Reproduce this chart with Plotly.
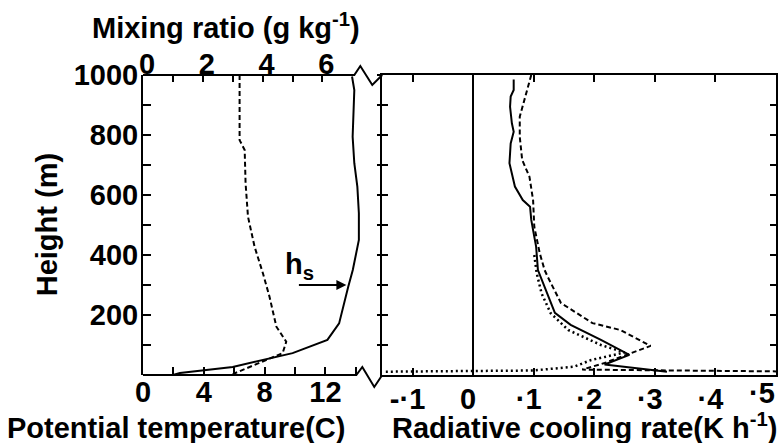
import plotly.graph_objects as go

# ---- left panel: potential temperature (bottom axis) and mixing ratio (top axis)
theta_height = [995, 950, 794, 706, 628, 539, 450, 350, 294, 228, 172, 117, 73, 27, 7, 0]
theta = [13.75, 13.9, 13.79, 13.9, 14.1, 14.2, 14.2, 13.8, 13.5, 13.2, 12.9, 12.13, 9.84, 5.9, 2.43, 1.97]

mix_height = [1000, 783, 750, 639, 528, 428, 339, 261, 161, 111, 73, 3]
mix_ratio = [3.23, 3.23, 3.4, 3.43, 3.51, 3.73, 4.01, 4.23, 4.46, 4.79, 4.67, 3.0]

# ---- right panel: radiative cooling-rate profiles
cool_solid_height = [985, 950, 928, 894, 839, 811, 772, 706, 628, 583, 561, 517, 483, 428, 350,
                     272, 207, 167, 117, 67, 35, 11]
cool_solid = [0.067, 0.067, 0.062, 0.061, 0.064, 0.067, 0.062, 0.060, 0.069, 0.082, 0.094, 0.096,
              0.099, 0.104, 0.107, 0.123, 0.135, 0.161, 0.211, 0.258, 0.217, 0.32]

cool_dash_height = [1000, 917, 861, 794, 717, 661, 583, 494, 406, 350, 328, 240, 189, 173, 150,
                    97, 40, 18, 12]
cool_dash = [0.096, 0.085, 0.077, 0.077, 0.081, 0.093, 0.099, 0.101, 0.110, 0.118, 0.123, 0.145,
             0.184, 0.197, 0.243, 0.293, 0.217, 0.180, 0.50]

cool_dot_height = [400, 339, 272, 206, 150, 100, 75, 50, 28, 15, 11]
cool_dot = [0.101, 0.105, 0.113, 0.128, 0.157, 0.211, 0.250, 0.195, 0.167, 0.10, -0.148]

# ---- axes
height_ticks = list(range(100, 1001, 100))
height_label_vals = [200, 400, 600, 800, 1000]
temp_ticks = list(range(0, 15, 2))
temp_label_vals = [0, 4, 8, 12]
mix_ticks = list(range(0, 7))
mix_label_vals = [0, 2, 4, 6]
cool_ticks = [-0.1, 0.0, 0.1, 0.2, 0.3, 0.4]
cool_labels = ["-·1", "0", "·1", "·2", "·3", "·4"]
cool_last_tick = 0.5
cool_last_label = "·5"

FONT = "Liberation Sans, Arial, sans-serif"
LINE = dict(color="black", width=2)

# plot area in pixels: x 143..778, y 75..375
L, R, T, B = 143, 2, 75, 68
W, H = 780, 443
PW, PH = W - L - R, H - T - B
BREAK = 383  # pixel where the cooling-rate panel starts


def px(x):
    return (x - L) / PW


def py(y):
    return (T + PH - y) / PH


XB = px(BREAK)
T_MAX = (BREAK - L) / 15.25
Q_MAX = (BREAK - L) / 30.0

fig = go.Figure()
fig.add_trace(go.Scatter(x=theta, y=theta_height, mode="lines", line=LINE,
                         xaxis="x", yaxis="y"))
fig.add_trace(go.Scatter(x=mix_ratio, y=mix_height, mode="lines",
                         line=dict(color="black", width=2, dash="5px,3px"),
                         xaxis="x3", yaxis="y"))
fig.add_trace(go.Scatter(x=cool_solid, y=cool_solid_height, mode="lines", line=LINE,
                         xaxis="x2", yaxis="y2"))
fig.add_trace(go.Scatter(x=cool_dash, y=cool_dash_height, mode="lines",
                         line=dict(color="black", width=2, dash="5px,3px"),
                         xaxis="x2", yaxis="y2"))
fig.add_trace(go.Scatter(x=cool_dot, y=cool_dot_height, mode="lines",
                         line=dict(color="black", width=2.5, dash="2px,3px"),
                         xaxis="x2", yaxis="y2"))
# carrier for the outward half of the crossing ticks
fig.add_trace(go.Scatter(x=[None], y=[None], mode="lines", xaxis="x2", yaxis="y3",
                         hoverinfo="skip"))

axis_common = dict(showgrid=False, zeroline=False, tickcolor="black", tickwidth=2,
                   linecolor="black", linewidth=2)


def minor(vals, ticks, length):
    return dict(tickmode="array", tickvals=vals, ticks=ticks, ticklen=length,
                tickwidth=2, tickcolor="black", showgrid=False)


fig.update_layout(
    width=W, height=H,
    margin=dict(l=L, r=R, t=T, b=B),
    paper_bgcolor="white", plot_bgcolor="white",
    showlegend=False,
    font=dict(family=FONT, size=29, color="black", weight="bold"),
    xaxis=dict(domain=[0, XB], range=[0, T_MAX], anchor="y", tickmode="array",
               tickvals=temp_label_vals, ticks="inside", ticklen=8, showline=False,
               ticklabelstandoff=-3, minor=minor(temp_ticks, "inside", 8), **axis_common),
    xaxis3=dict(domain=[0, XB], range=[0, Q_MAX], anchor="y", overlaying="x", side="top",
                tickmode="array", tickvals=mix_label_vals, ticks="inside", ticklen=7,
                showline=False, ticklabelstandoff=-6, ticklabelshift=4,
                minor=minor(mix_ticks, "inside", 7), **axis_common),
    yaxis=dict(domain=[0, 1], range=[0, 1000], anchor="x", tickmode="array",
               tickvals=height_label_vals, ticks="inside", ticklen=8, showline=True,
               ticklabelstandoff=-3, minor=minor(height_ticks, "inside", 8), **axis_common),
    xaxis2=dict(domain=[XB, 1], range=[-0.15, 0.5], anchor="y2", tickmode="array",
                tickvals=cool_ticks, ticktext=cool_labels, ticks="inside", ticklen=7,
                mirror="ticks", showline=True, ticklabelshift=-5, ticklabelstandoff=-3,
                **{**axis_common, "zeroline": True, "zerolinecolor": "black",
                   "zerolinewidth": 2}),
    yaxis2=dict(domain=[0, 1], range=[0, 1000], anchor="x2", tickmode="array",
                tickvals=height_ticks, showticklabels=False, ticks="inside", ticklen=6,
                mirror="ticks", showline=True, **axis_common),
    yaxis3=dict(domain=[0, 1], range=[0, 1000], anchor="x2", overlaying="y2", side="left",
                tickmode="array", tickvals=height_ticks, showticklabels=False,
                ticks="outside", ticklen=4, showline=False, **axis_common),
)

# top and bottom frame of the temperature panel, with the axis-break zigzags
top_path = "M {} {} L {} {} L {} {} L {} {} L {} {}".format(
    px(143), py(75), px(355), py(75), px(361), py(66), px(373), py(85), px(BREAK), py(75))
bot_path = "M {} {} L {} {} L {} {} L {} {} L {} {}".format(
    px(143), py(375), px(357), py(375), px(363), py(367), px(375), py(387), px(BREAK), py(375))
for p in (top_path, bot_path):
    fig.add_shape(type="path", path=p, xref="paper", yref="paper",
                  line=dict(color="black", width=2), layer="above")

ann_font = dict(family=FONT, size=29, color="black", weight="bold")
fig.add_annotation(text="Potential temperature(C)", xref="paper", yref="paper",
                   x=px(176), y=py(445), xanchor="center", yanchor="bottom",
                   showarrow=False, font=ann_font, borderpad=0)
fig.add_annotation(text="Radiative cooling rate(K h<sup>-1</sup>)", xref="paper", yref="paper",
                   x=px(586), y=py(445), xanchor="center", yanchor="bottom",
                   showarrow=False, font=ann_font, borderpad=0)
fig.add_annotation(text="Mixing ratio (g kg<sup>-1</sup>)", xref="paper", yref="paper",
                   x=px(226), y=py(6), xanchor="center", yanchor="top",
                   showarrow=False, font=ann_font)
fig.add_annotation(text="Height (m)", xref="paper", yref="paper", textangle=-90,
                   x=px(47), y=0.5, xanchor="center", yanchor="middle",
                   showarrow=False, font=ann_font)
fig.add_annotation(text=cool_last_label, xref="x2", yref="paper", x=cool_last_tick,
                   y=py(376), xanchor="right", yanchor="top", showarrow=False,
                   font=ann_font, borderpad=0)

# h_s marker: arrow pointing at the potential-temperature profile at 300 m
fig.add_annotation(text="", x=13.38, y=300, xref="x", yref="y", ax=-49, ay=0,
                   showarrow=True, arrowhead=2, arrowsize=1, arrowwidth=2, arrowcolor="black")
fig.add_annotation(text="h<sub>s</sub>", x=10.3, y=362, xref="x", yref="y",
                   xanchor="center", yanchor="middle", showarrow=False, font=ann_font)

fig.write_html("out.html")
